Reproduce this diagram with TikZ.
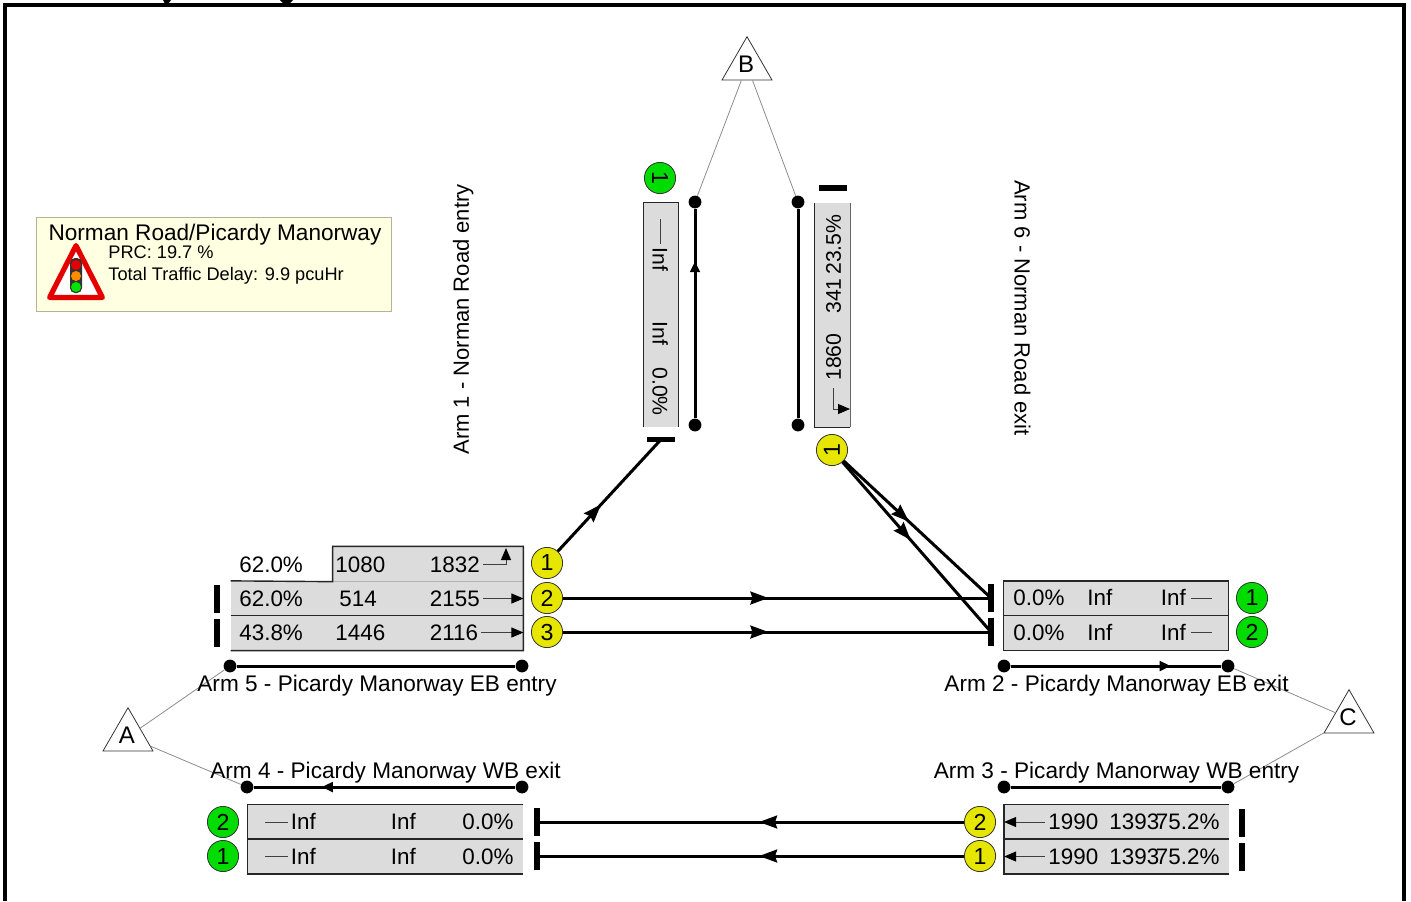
\documentclass[tikz,border=0pt]{standalone}
\usepackage{fontspec}
\setmainfont{Liberation Sans}
\usetikzlibrary{arrows.meta,decorations.markings,shapes.geometric}
\definecolor{lanegrey}{HTML}{DCDCDC}
\definecolor{signalgreen}{HTML}{00DC00}
\definecolor{signalyellow}{HTML}{E6E600}
\definecolor{notecream}{HTML}{FFFFE1}
\definecolor{noteedge}{HTML}{B4B496}
\begin{document}
\begin{tikzpicture}[
    x=0.5pt, y=-0.5pt,
    every node/.style={font=\fontsize{11.3}{13}\selectfont},
    lanerow/.style={
        fill=lanegrey,
        inner sep=0pt,
        minimum height=17.25pt,
    },
    rowline/.style={black!85, line width=0.7pt},
    cell/.style={
        font=\fontsize{11.2}{13}\selectfont,
        inner xsep=1.5pt,
        inner ysep=0pt,
        text height=7.8pt,
        text depth=0pt,
        anchor=west,
    },
    sidecell/.style={cell, font=\fontsize{10.6}{13}\selectfont},
    armlabel/.style={
        inner sep=0pt,
        text height=7.8pt,
        text depth=0pt,
        anchor=center,
    },
    sidelabel/.style={armlabel, font=\fontsize{11}{13}\selectfont},
    greenlamp/.style={
        circle, draw=black!80, fill=signalgreen, line width=0.4pt,
        minimum size=15.6pt, inner sep=0pt, font=\fontsize{11.6}{13}\selectfont,
    },
    yellowlamp/.style={
        circle, draw=black!80, fill=signalyellow, line width=0.4pt,
        minimum size=15.6pt, inner sep=0pt, font=\fontsize{11.6}{13}\selectfont,
    },
    stopbar/.style={fill=black, inner sep=0pt, minimum width=2.6pt, minimum height=14pt},
    stopbarh/.style={fill=black, inner sep=0pt, minimum width=14pt, minimum height=2.6pt},
    armdot/.style={circle, fill=black, inner sep=0pt, minimum size=6.4pt},
    centroid/.style={
        regular polygon, regular polygon sides=3, draw=black!80, fill=white,
        line width=0.4pt, inner sep=0pt, minimum size=28.9pt,
    },
    feeder/.style={black!45, line width=0.4pt},
    armline/.style={black, line width=1.5pt},
    flow/.style={black, line width=1.5pt},
    armarrow/.style={
        postaction={decorate},
        decoration={markings, mark=at position #1 with {\arrow{Triangle[length=5.5pt,width=4.8pt]}}},
    },
    flowarrow/.style={
        postaction={decorate},
        decoration={markings, mark=at position #1 with {\arrow{Stealth[length=9pt,width=6.4pt,inset=1pt]}}},
    },
    lanearrow/.style={black!75, line width=0.5pt, -{Triangle[length=6pt,width=5pt,color=black]}},
    laneline/.style={black!75, line width=0.5pt},
]

% Page size
\useasboundingbox (0,0) rectangle (1411,901);

% Row positions
\def\yupper{598.5}
\def\ylower{633}
\def\ybtop{822}
\def\ybbot{856.5}

% --- Frame ---
\draw[black, line width=2pt] (5,901) -- (5,5) -- (1404,5) -- (1404,901);
\fill[black] (163,0) -- (171,0) -- (168,4) -- (165,4) -- cycle;
\fill[black] (280,0) -- (293,0) -- (289,4) -- (284,4) -- cycle;

% --- Note box ---
\node[draw=noteedge, fill=notecream, line width=0.5pt, inner sep=0pt,
    minimum width=177.5pt, minimum height=47pt] (note) at (213.5,264) {};
\node[armlabel] (noteTitle) at (215,232.5) {Norman Road/Picardy Manorway};
\node[armlabel, anchor=west, font=\fontsize{9.1}{11}\selectfont] (notePRC) at (108,251) {PRC: 19.7 \%};
\node[armlabel, anchor=west, font=\fontsize{9.1}{11}\selectfont] (noteDelay) at (108,273) {Total Traffic Delay: 9.9 pcuHr};

% Warning sign
\draw[red!90!black, fill=white, line width=2.6pt, line join=round] (76,245.6) -- (102.4,297.4) -- (49.6,297.4) -- cycle;
\fill[black!80, rounded corners=2.5pt] (70,258) rectangle (82,293);
\fill[red!90!black] (76,265) circle[radius=5];
\fill[orange!90!yellow] (76,276) circle[radius=5];
\fill[green!90!black] (76,287) circle[radius=5];

% --- Centroids and arm ends ---
\node[armdot] (a5L) at (230,666) {};
\node[armdot] (a5R) at (522,666) {};
\node[armdot] (a2L) at (1004,666) {};
\node[armdot] (a2R) at (1228,666) {};
\node[armdot] (a4L) at (247,787) {};
\node[armdot] (a4R) at (522,787) {};
\node[armdot] (a3L) at (1004,787) {};
\node[armdot] (a3R) at (1228,787) {};
\node[armdot] (a1T) at (695,202) {};
\node[armdot] (a1B) at (695,425) {};
\node[armdot] (a6T) at (798,202) {};
\node[armdot] (a6B) at (798,425) {};

\node[centroid] (triA) at (128,736.6) {};
\node[centroid] (triB) at (747,65.6) {};
\node[centroid] (triC) at (1349,718.6) {};

\draw[feeder] (triB) -- (a1T);
\draw[feeder] (triB) -- (a6T);
\draw[feeder] (triA) -- (a5L);
\draw[feeder] (triA) -- (a4L);
\draw[feeder] (triC) -- (a2R);
\draw[feeder] (triC) -- (a3R);

\node[armlabel, font=\fontsize{12}{13}\selectfont] (lblA) at (127,736) {A};
\node[armlabel, font=\fontsize{12}{13}\selectfont] (lblB) at (746,65) {B};
\node[armlabel, font=\fontsize{12}{13}\selectfont] (lblC) at (1348,718) {C};

\draw[armline] (a5L) -- (a5R);
\draw[armline, armarrow=0.76] (a2L) -- (a2R);
\draw[armline, armarrow=0.74] (a4R) -- (a4L);
\draw[armline] (a3L) -- (a3R);
\draw[armline, armarrow=0.75] (a1B) -- (a1T);
\draw[armline] (a6B) -- (a6T);

% --- Arm labels ---
\node[armlabel] (lblArm5) at (377,683.5) {Arm 5 - Picardy Manorway EB entry};
\node[armlabel] (lblArm2) at (1116.5,683.5) {Arm 2 - Picardy Manorway EB exit};
\node[armlabel] (lblArm4) at (385.5,771) {Arm 4 - Picardy Manorway WB exit};
\node[armlabel] (lblArm3) at (1116.5,771) {Arm 3 - Picardy Manorway WB entry};
\node[sidelabel, rotate=90] (lblArm1) at (461,319.5) {Arm 1 - Norman Road entry};
\node[sidelabel, rotate=-90] (lblArm6) at (1022.5,308) {Arm 6 - Norman Road exit};

% --- Arm 5: lanes ---
\node[lanerow, minimum width=95pt] (r51) at (428,564) {};
\node[lanerow, minimum width=146pt] (r52) at (377,\yupper) {};
\node[lanerow, minimum width=146pt] (r53) at (377,\ylower) {};
\draw[black!30, line width=0.6pt] (r51.south west) -- (r51.south east);
\draw[rowline] (r52.north west) -- (r51.south west) -- (r51.north west) -- (r51.north east) -- (r53.south east) -- (r53.south west);
\draw[rowline] (r53.north west) -- (r53.north east);

\node[cell] (c51a) at (236,564.5) {62.0\%};
\node[cell] (c51b) at (332,564.5) {1080};
\node[cell] (c51c) at (426.5,564.5) {1832};
\node[cell] (c52a) at (236,598.5) {62.0\%};
\node[cell] (c52b) at (336,598.5) {514};
\node[cell] (c52c) at (426.5,598.5) {2155};
\node[cell] (c53a) at (236,632.5) {43.8\%};
\node[cell] (c53b) at (332,632.5) {1446};
\node[cell] (c53c) at (426.5,632.5) {2116};

\coordinate (e51) at (506,548);
\draw[lanearrow] (c51c.east) -| (e51);
\draw[lanearrow] (c52c.east) -- (c52c.east -| r52.east);
\draw[lanearrow] (c53c.east) -- (c53c.east -| r53.east);

\node[yellowlamp] (y51) at (547,563) {1};
\node[yellowlamp] (y52) at (547,598) {2};
\node[yellowlamp] (y53) at (547,632) {3};
\node[stopbar] (s52) at (217,598.5) {};
\node[stopbar] (s53) at (217,632.5) {};

% --- Arm 2: lanes ---
\node[lanerow, minimum width=112pt] (r21) at (1116,\yupper) {};
\node[lanerow, minimum width=112pt] (r22) at (1116,\ylower) {};
\draw[rowline] (r21.north west) rectangle (r22.south east);
\draw[rowline] (r22.north west) -- (r22.north east);

\node[cell] (c21a) at (1010,598) {0.0\%};
\node[cell] (c21b) at (1084,598) {Inf};
\node[cell] (c21c) at (1157.5,598) {Inf};
\node[cell] (c22a) at (1010,632.5) {0.0\%};
\node[cell] (c22b) at (1084,632.5) {Inf};
\node[cell] (c22c) at (1157.5,632.5) {Inf};

\coordinate (e21) at (1212,598);
\coordinate (e22) at (1212,632.5);
\draw[laneline] ([xshift=1pt]c21c.east) -- (e21);
\draw[laneline] ([xshift=1pt]c22c.east) -- (e22);

\node[greenlamp] (g21) at (1252,598) {1};
\node[greenlamp] (g22) at (1252,632) {2};
\node[stopbar] (s21) at (991,598) {};
\node[stopbar] (s22) at (991,632) {};

% --- Arm 3: lanes ---
\node[lanerow, minimum width=112pt] (r31) at (1116.5,\ybtop) {};
\node[lanerow, minimum width=112pt] (r32) at (1116.5,\ybbot) {};
\draw[rowline] (r31.north east) -- (r31.north west) -- (r32.south west) -- (r32.south east);
\draw[rowline] (r32.north west) -- (r32.north east);

\node[cell] (c31a) at (1045,822) {1990};
\node[cell] (c31b) at (1106,822) {1393};
\node[cell] (c31c) at (1152.5,822) {75.2\%};
\node[cell] (c32a) at (1045,856.5) {1990};
\node[cell] (c32b) at (1106,856.5) {1393};
\node[cell] (c32c) at (1152.5,856.5) {75.2\%};

\draw[lanearrow] (c31a.west) -- (c31a.west -| r31.west);
\draw[lanearrow] (c32a.west) -- (c32a.west -| r32.west);

\node[yellowlamp] (y31) at (980,822) {2};
\node[yellowlamp] (y32) at (980,856) {1};
\node[stopbar] (s31) at (1242,822.5) {};
\node[stopbar] (s32) at (1242,856.5) {};

% --- Arm 4: lanes ---
\node[lanerow, minimum width=137.5pt] (r41) at (385.5,\ybtop) {};
\node[lanerow, minimum width=137.5pt] (r42) at (385.5,\ybbot) {};
\draw[rowline] (r41.north east) -- (r41.north west) -- (r42.south west) -- (r42.south east);
\draw[rowline] (r42.north west) -- (r42.north east);

\node[cell] (c41a) at (287.5,822) {Inf};
\node[cell] (c41b) at (387.5,822) {Inf};
\node[cell] (c41c) at (459,822) {0.0\%};
\node[cell] (c42a) at (287.5,856.5) {Inf};
\node[cell] (c42b) at (387.5,856.5) {Inf};
\node[cell] (c42c) at (459,856.5) {0.0\%};

\coordinate (e41) at (265,822);
\coordinate (e42) at (265,856.5);
\draw[laneline] (c41a.west) -- (e41);
\draw[laneline] (c42a.west) -- (e42);

\node[greenlamp] (g41) at (223,822) {2};
\node[greenlamp] (g42) at (223,856) {1};
\node[stopbar] (s41) at (537,822) {};
\node[stopbar] (s42) at (537,856) {};

% --- Arm 1: lane ---
\node[lanerow, minimum width=17pt, minimum height=112pt] (r11) at (661,315) {};
\draw[rowline] (r11.south west) -- (r11.north west) -- (r11.north east) -- (r11.south east);

\coordinate (e11) at (660.5,219);
\node[sidecell, rotate=-90] (c11a) at (660.5,244) {Inf};
\node[sidecell, rotate=-90] (c11b) at (660.5,318) {Inf};
\node[sidecell, rotate=-90] (c11c) at (660.5,364) {0.0\%};
\draw[laneline] (c11a.west) -- (e11);

\node[greenlamp, rotate=-90] (g11) at (660,178) {1};
\node[stopbarh] (s11) at (661,439.5) {};

% --- Arm 6: lane ---
\node[lanerow, minimum width=17.5pt, minimum height=112pt] (r61) at (832.5,315) {};
\draw[rowline] (r61.north west) -- (r61.south west) -- (r61.south east);
\draw[black!60, line width=0.6pt] (r61.south east) -- (r61.north east);

\coordinate (e61) at (850,409);
\node[sidecell, rotate=90] (c61a) at (833,384) {1860};
\node[sidecell, rotate=90] (c61b) at (833,317) {341};
\node[sidecell, rotate=90] (c61c) at (833,278) {23.5\%};
\draw[lanearrow] ([yshift=-2pt]c61a.west) |- (e61);

\node[yellowlamp, rotate=90] (y61) at (832,450) {1};
\node[stopbarh] (s61) at (833,188) {};

% --- Flows ---
\draw[flow, flowarrow=0.42] (y51) -- (s11.center);
\draw[flow, flowarrow=0.48] (y52) -- (s21.center);
\draw[flow, flowarrow=0.48] (y53) -- (s22.center);
\draw[flow, flowarrow=0.445] (y61) -- (s21.center);
\draw[flow, flowarrow=0.46] (y61) -- (s22.center);
\draw[flow, flowarrow=0.48] (y31) -- (s41.center);
\draw[flow, flowarrow=0.48] (y32) -- (s42.center);

\end{tikzpicture}
\end{document}
